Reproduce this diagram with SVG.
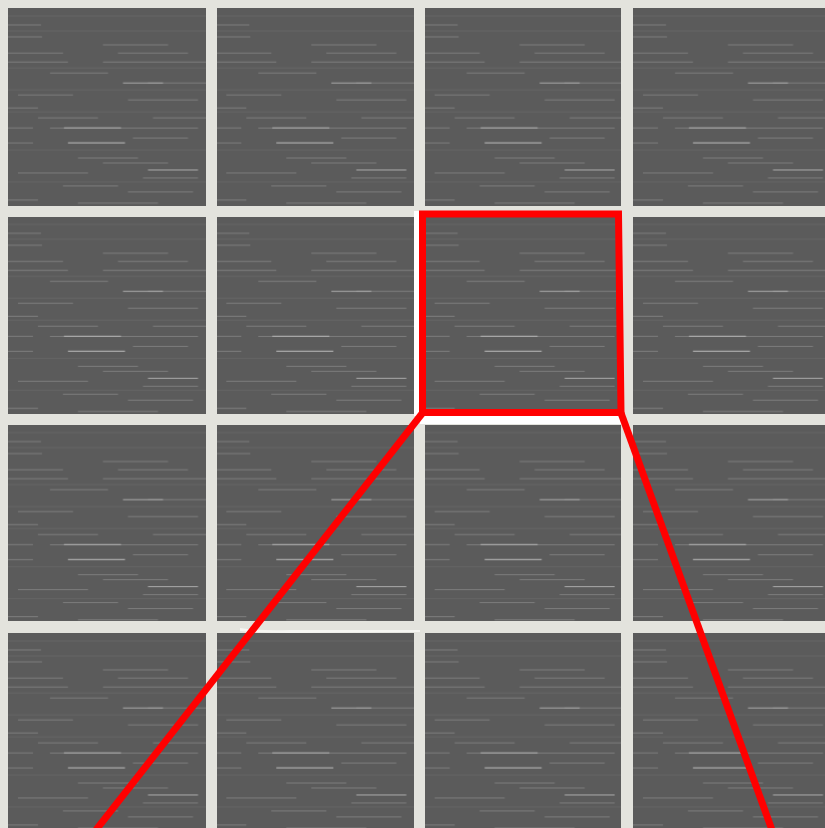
<svg xmlns="http://www.w3.org/2000/svg" width="825" height="828" viewBox="0 0 825 828">
<style>
.tile{fill:url(#tex)}
.red{fill:none;stroke:#ff0000;stroke-width:7;stroke-linejoin:miter;stroke-linecap:butt}
.gapw{fill:#ffffff}
</style>
<defs>
<pattern id="tex" patternUnits="userSpaceOnUse" x="8" y="8" width="208.33" height="208.33">
<rect width="208.33" height="208.33" fill="#5b5b5b"/>
<g stroke="#8a8a8a" stroke-width="1" opacity="0.7">
<line x1="0" y1="17" x2="33" y2="17"/>
<line x1="0" y1="29" x2="34" y2="29"/>
<line x1="95" y1="37" x2="160" y2="37"/>
<line x1="0" y1="45" x2="55" y2="45"/>
<line x1="110" y1="45" x2="180" y2="45"/>
<line x1="0" y1="54" x2="60" y2="54"/>
<line x1="95" y1="54" x2="200" y2="54"/>
<line x1="42" y1="65" x2="100" y2="65"/>
<line x1="140" y1="75" x2="200" y2="75"/>
<line x1="10" y1="87" x2="65" y2="87"/>
<line x1="120" y1="92" x2="190" y2="92"/>
<line x1="0" y1="100" x2="30" y2="100"/>
<line x1="30" y1="110" x2="90" y2="110"/>
<line x1="145" y1="110" x2="200" y2="110"/>
<line x1="0" y1="120" x2="25" y2="120"/>
<line x1="42" y1="120" x2="190" y2="120"/>
<line x1="125" y1="130" x2="180" y2="130"/>
<line x1="0" y1="135" x2="25" y2="135"/>
<line x1="70" y1="150" x2="130" y2="150"/>
<line x1="95" y1="155" x2="160" y2="155"/>
<line x1="10" y1="165" x2="80" y2="165"/>
<line x1="135" y1="170" x2="190" y2="170"/>
<line x1="55" y1="178" x2="110" y2="178"/>
<line x1="120" y1="184" x2="185" y2="184"/>
<line x1="0" y1="192" x2="30" y2="192"/>
<line x1="70" y1="195" x2="150" y2="195"/>
</g>
<g stroke="#aaaaaa" stroke-width="1.2">
<line x1="56" y1="120" x2="113" y2="120"/>
<line x1="60" y1="135" x2="117" y2="135"/>
<line x1="140" y1="162" x2="190" y2="162"/>
<line x1="115" y1="75" x2="155" y2="75"/>
</g>
<g stroke="#666666" stroke-width="1" opacity="0.8">
<line x1="0" y1="8" x2="200" y2="8"/>
<line x1="0" y1="23" x2="200" y2="23"/>
<line x1="0" y1="60" x2="200" y2="60"/>
<line x1="0" y1="82" x2="200" y2="82"/>
<line x1="0" y1="104" x2="200" y2="104"/>
<line x1="0" y1="142" x2="200" y2="142"/>
<line x1="0" y1="174" x2="200" y2="174"/>
</g>
</pattern>
</defs>
<rect width="825" height="828" fill="#e3e3dd"/>
<g id="tiles">
<rect class="tile" x="8" y="8" width="198" height="198"/>
<rect class="tile" x="217" y="8" width="197" height="198"/>
<rect class="tile" x="425" y="8" width="196" height="198"/>
<rect class="tile" x="633" y="8" width="192" height="198"/>
<rect class="tile" x="8" y="217" width="198" height="197"/>
<rect class="tile" x="217" y="217" width="197" height="197"/>
<rect class="tile" x="425" y="217" width="196" height="197"/>
<rect class="tile" x="633" y="217" width="192" height="197"/>
<rect class="tile" x="8" y="425" width="198" height="196"/>
<rect class="tile" x="217" y="425" width="197" height="196"/>
<rect class="tile" x="425" y="425" width="196" height="196"/>
<rect class="tile" x="633" y="425" width="192" height="196"/>
<rect class="tile" x="8" y="633" width="198" height="195"/>
<rect class="tile" x="217" y="633" width="197" height="195"/>
<rect class="tile" x="425" y="633" width="196" height="195"/>
<rect class="tile" x="633" y="633" width="192" height="195"/>
</g>
<g id="highlights">
<rect class="gapw" x="414" y="211" width="6" height="205"/>
<rect class="gapw" x="420" y="416" width="203" height="8"/>
<path d="M240,628 Q260,631 290,630 L420,630 L420,632 L290,633 Q260,633 240,631 Z" fill="#f6f6f2"/>
</g>
<g id="connectors">
<polygon class="red" points="422.5,214 618.5,214 621,412.5 422.5,412.5"/>
<line class="red" x1="422.5" y1="413" x2="96" y2="830"/>
<line class="red" x1="621" y1="413" x2="772" y2="830"/>
</g>
</svg>
